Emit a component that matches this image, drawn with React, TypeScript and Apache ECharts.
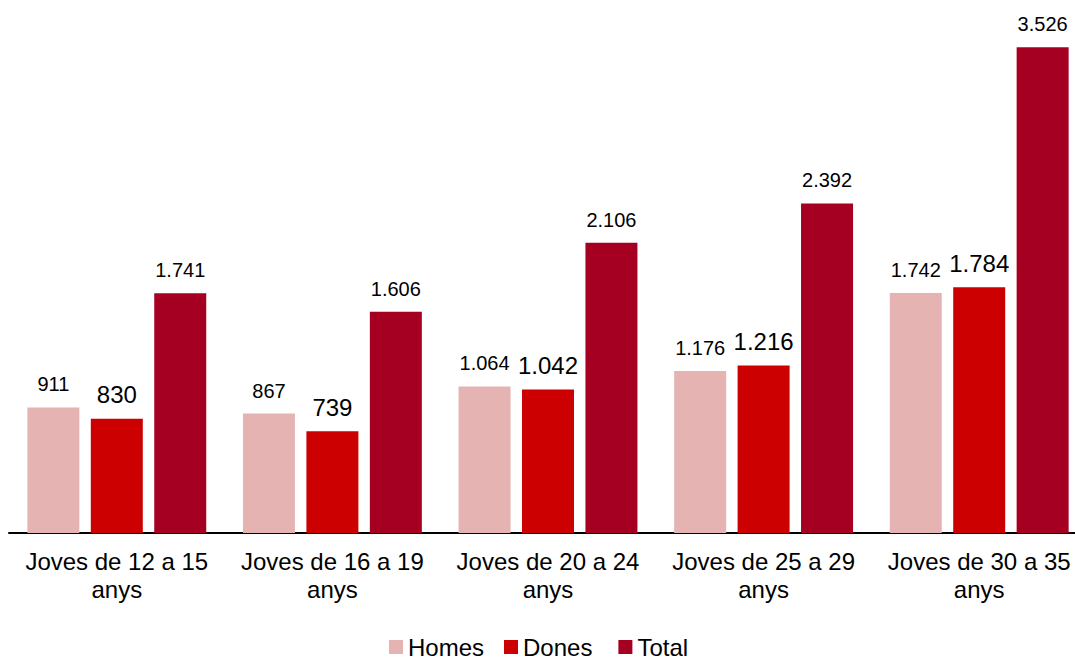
import React, { useEffect, useRef } from "react";
import * as echarts from "echarts";

const categories = [
  "Joves de 12 a 15\nanys",
  "Joves de 16 a 19\nanys",
  "Joves de 20 a 24\nanys",
  "Joves de 25 a 29\nanys",
  "Joves de 30 a 35\nanys",
];
const homes = [911, 867, 1064, 1176, 1742];
const dones = [830, 739, 1042, 1216, 1784];
const total = [1741, 1606, 2106, 2392, 3526];

const fmt = (v: number) => {
  const s = String(Math.round(v));
  return s.replace(/\B(?=(\d{3})+(?!\d))/g, ".");
};

const FONT = "'Liberation Sans', Arial, sans-serif";

export default function App() {
  const ref = useRef<HTMLDivElement>(null);
  useEffect(() => {
    if (!ref.current) return;
    const chart = echarts.init(ref.current, undefined, { renderer: "svg" });
    const mk = (name: string, data: number[], color: string, fs: number, d: number) => ({
      name,
      type: "bar",
      data,
      barWidth: 52,
      barGap: "22%",
      itemStyle: { color },
      label: {
        show: true,
        position: "top",
        distance: d,
        color: "#000",
        fontFamily: FONT,
        fontSize: fs,
        formatter: (p: any) => fmt(p.value),
      },
    });
    chart.setOption({
      animation: false,
      textStyle: { fontFamily: FONT },
      grid: { left: 9, width: 1078, top: 37, bottom: 126 },
      legend: {
        top: 635,
        left: 389,
        padding: 0,
        icon: "rect",
        itemWidth: 14,
        itemHeight: 14,
        itemGap: 20,
        itemStyle: { borderWidth: 0 },
        textStyle: { fontFamily: FONT, fontSize: 24, lineHeight: 24, color: "#000" },
        data: [
          { name: "Homes" },
          { name: "Dones", textStyle: { padding: [0, 6, 0, 0] } },
          { name: "Total" },
        ],
      },
      xAxis: {
        type: "category",
        data: categories,
        axisLine: { lineStyle: { color: "#000", width: 2 } },
        axisTick: { show: false },
        axisLabel: {
          color: "#000",
          fontFamily: FONT,
          fontSize: 24,
          lineHeight: 28,
          margin: 14,
          interval: 0,
        },
      },
      yAxis: {
        type: "value",
        min: 0,
        max: 3600,
        show: false,
        splitLine: { show: false },
      },
      series: [
        mk("Homes", homes, "#E6B3B3", 20, 13),
        mk("Dones", dones, "#CC0000", 24, 12),
        mk("Total", total, "#A50021", 20, 13),
      ],
    });
    return () => chart.dispose();
  }, []);
  return (
    <div style={{ position: "absolute", left: 0, top: 0, width: 1075, height: 659, overflow: "hidden" }}>
      <div ref={ref} style={{ width: 1090, height: 659 }} />
    </div>
  );
}
